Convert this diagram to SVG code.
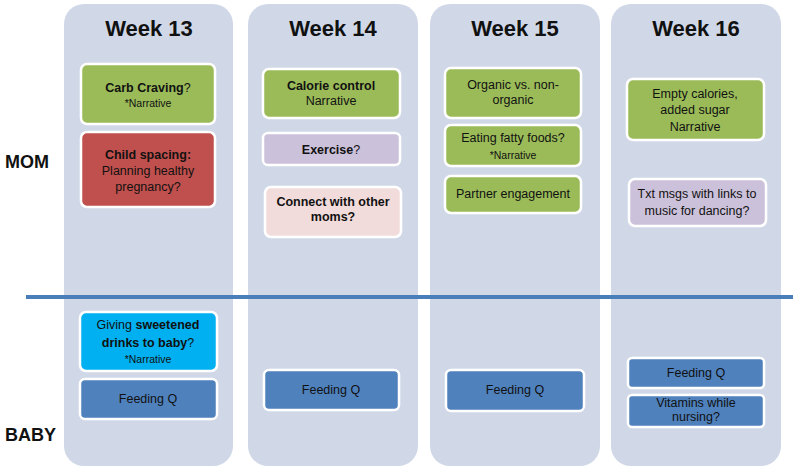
<svg xmlns="http://www.w3.org/2000/svg" width="800" height="467" viewBox="0 0 800 467">
<style>
.col{fill:#d0d8e8}
.box{stroke:#ffffff;stroke-width:2.5}
.g{fill:#9bbb59}.r{fill:#c0504d}.p{fill:#ccc1da}.pk{fill:#f2dcdb}.c{fill:#00b0f0}.b{fill:#4f81bd}
text{font-family:"Liberation Sans",Arial,sans-serif;fill:#111;text-anchor:middle;font-size:12.5px}
.wk{font-size:22px;font-weight:bold}
.lab{font-size:18px;font-weight:bold;text-anchor:start}
.bd{font-weight:bold}
.sm{font-size:10.5px}
</style>
<rect width="800" height="467" fill="#ffffff"/>
<g id="columns">
<rect class="col" x="64" y="4" width="169" height="462" rx="20"/>
<rect class="col" x="248" y="4" width="170" height="462" rx="20"/>
<rect class="col" x="430" y="4" width="170" height="462" rx="20"/>
<rect class="col" x="611" y="4" width="170" height="462" rx="20"/>
<text class="wk" x="149" y="36">Week 13</text>
<text class="wk" x="333" y="36">Week 14</text>
<text class="wk" x="515" y="36">Week 15</text>
<text class="wk" x="696" y="36">Week 16</text>
</g>
<g id="labels">
<text class="lab" x="5" y="168">MOM</text>
<text class="lab" x="5" y="441">BABY</text>
</g>
<g id="connectors">
<line x1="26" y1="297" x2="793" y2="297" stroke="#4a7ebb" stroke-width="4"/>
</g>
<g id="carb">
<rect class="box g" x="81" y="64" width="134" height="60" rx="6"/>
<text x="148" y="92"><tspan class="bd">Carb Craving</tspan>?</text>
<text class="sm" x="148" y="107">*Narrative</text>
</g>
<g id="spacing">
<rect class="box r" x="81" y="132" width="134" height="75" rx="6"/>
<text class="bd" x="148" y="159">Child spacing:</text>
<text x="148" y="175">Planning healthy</text>
<text x="148" y="191">pregnancy?</text>
</g>
<g id="calorie">
<rect class="box g" x="263" y="69" width="137" height="49" rx="6"/>
<text class="bd" x="331" y="90">Calorie control</text>
<text x="331" y="105">Narrative</text>
</g>
<g id="exercise">
<rect class="box p" x="263" y="133" width="137" height="32" rx="5"/>
<text x="331" y="154"><tspan class="bd">Exercise</tspan>?</text>
</g>
<g id="connect">
<rect class="box pk" x="265" y="187" width="136" height="50" rx="6"/>
<text class="bd" x="333" y="206">Connect with other</text>
<text class="bd" x="333" y="221">moms?</text>
</g>
<g id="organic">
<rect class="box g" x="445" y="68" width="136" height="50" rx="6"/>
<text x="513" y="89">Organic vs. non-</text>
<text x="513" y="104">organic</text>
</g>
<g id="fatty">
<rect class="box g" x="445" y="125" width="136" height="41" rx="6"/>
<text x="513" y="142">Eating fatty foods?</text>
<text class="sm" x="513" y="159">*Narrative</text>
</g>
<g id="partner">
<rect class="box g" x="445" y="176" width="136" height="37" rx="6"/>
<text x="513" y="198">Partner engagement</text>
</g>
<g id="empty">
<rect class="box g" x="627" y="79" width="137" height="61" rx="6"/>
<text x="695" y="98">Empty calories,</text>
<text x="695" y="114">added sugar</text>
<text x="695" y="131">Narrative</text>
</g>
<g id="txt">
<rect class="box p" x="629" y="179" width="137" height="47" rx="6"/>
<text x="697" y="198">Txt msgs with links to</text>
<text x="697" y="215">music for dancing?</text>
</g>
<g id="sweet">
<rect class="box c" x="80" y="312" width="137" height="59" rx="6"/>
<text x="148" y="329">Giving <tspan class="bd">sweetened</tspan></text>
<text x="148" y="347"><tspan class="bd">drinks to baby</tspan>?</text>
<text class="sm" x="148" y="363">*Narrative</text>
</g>
<g id="feed13">
<rect class="box b" x="80" y="379" width="137" height="40" rx="5"/>
<text x="148" y="403">Feeding Q</text>
</g>
<g id="feed14">
<rect class="box b" x="264" y="370" width="135" height="40" rx="5"/>
<text x="331" y="394">Feeding Q</text>
</g>
<g id="feed15">
<rect class="box b" x="446" y="370" width="138" height="41" rx="5"/>
<text x="515" y="394">Feeding Q</text>
</g>
<g id="feed16">
<rect class="box b" x="628" y="358" width="136" height="30" rx="4"/>
<text x="696" y="377">Feeding Q</text>
</g>
<g id="vitamins">
<rect class="box b" x="628" y="395" width="136" height="32" rx="4"/>
<text x="696" y="407">Vitamins while</text>
<text x="696" y="421">nursing?</text>
</g>
</svg>
